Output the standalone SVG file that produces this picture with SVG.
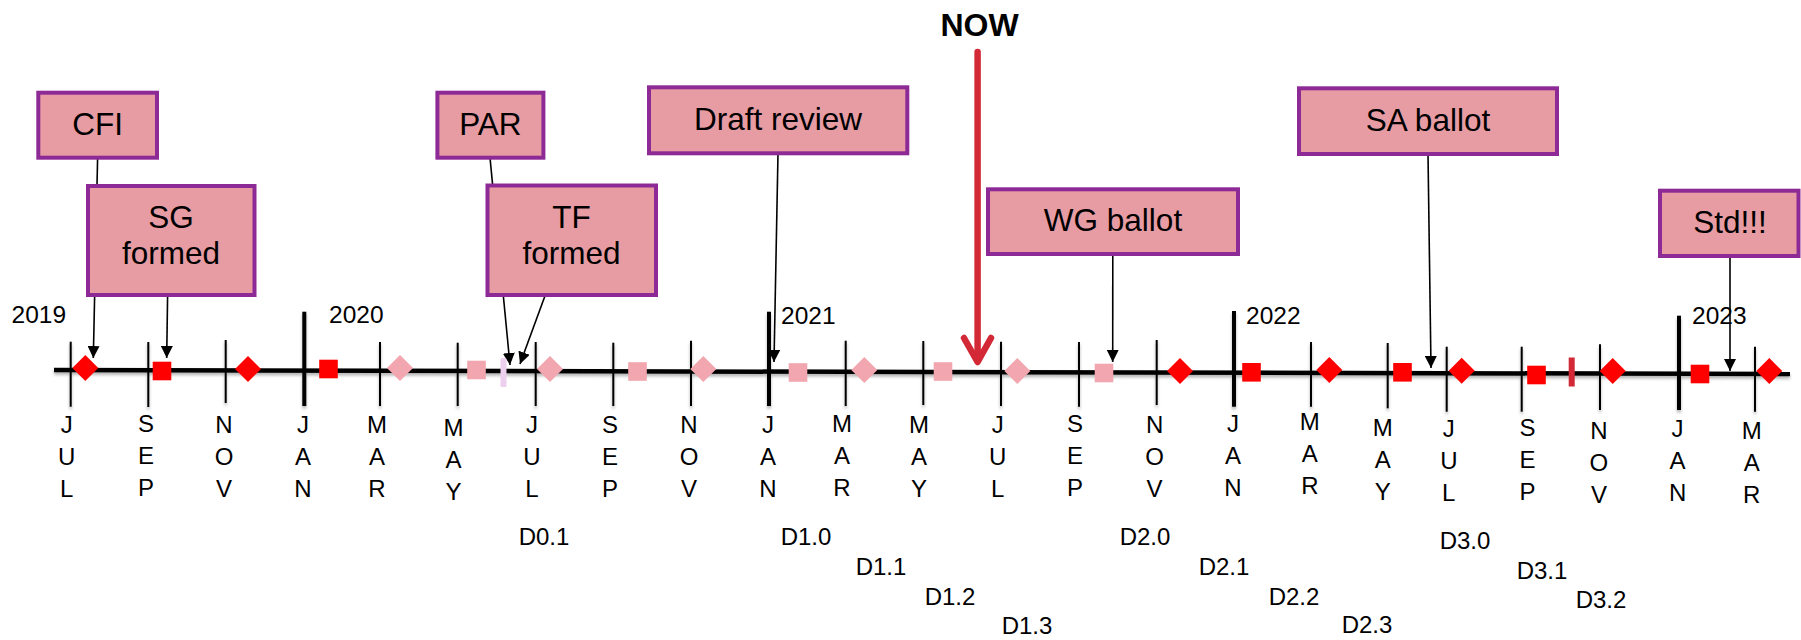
<svg xmlns="http://www.w3.org/2000/svg" width="1801" height="640" viewBox="0 0 1801 640">
<style>
  text { font-family: "Liberation Sans", Arial, sans-serif; fill: #000; }
  .box { fill: #E79CA3; stroke: #8E2A96; stroke-width: 4; }
  .bt { font-size: 31.5px; text-anchor: middle; }
  .yr { font-size: 24.5px; }
  .mo { font-size: 24px; text-anchor: middle; }
  .dl { font-size: 24px; text-anchor: middle; }
  .tk { stroke: #000; stroke-width: 2; }
  .tkb { stroke: #000; stroke-width: 4; }
  .con { stroke: #000; stroke-width: 1.6; fill: none; }
  .arr { marker-end: url(#ah); }
  .rd { fill: #FF0000; }
  .pk { fill: #F2A6AF; }
</style>
<defs>
  <marker id="ah" viewBox="0 0 12 12" refX="12" refY="6" markerWidth="12" markerHeight="12" markerUnits="userSpaceOnUse" orient="auto">
    <path d="M0,0 L12,6 L0,12 Z" fill="#000"/>
  </marker>
  <filter id="sh" x="-5%" y="-50%" width="110%" height="300%">
    <feDropShadow dx="0" dy="2.5" stdDeviation="1.5" flood-color="#000" flood-opacity="0.3"/>
  </filter>
  <path id="dia" d="M0,-13 L13,0 L0,13 L-13,0 Z"/>
  <rect id="sq" x="-9.3" y="-9.3" width="18.6" height="18.6"/>
</defs>

<g id="axis" filter="url(#sh)">
  <line x1="54" y1="370" x2="1790" y2="374" stroke="#000" stroke-width="4.5"/>
  <line class="tk" x1="70.7" y1="341.7" x2="70.7" y2="406.7"/>
  <line class="tk" x1="148.3" y1="342" x2="148.3" y2="407"/>
  <line class="tk" x1="225.7" y1="340" x2="225.7" y2="403"/>
  <line class="tkb" x1="304.3" y1="311.7" x2="304.3" y2="406"/>
  <line class="tk" x1="380" y1="342" x2="380" y2="406"/>
  <line class="tk" x1="457.7" y1="342.7" x2="457.7" y2="406"/>
  <line class="tk" x1="535.7" y1="342" x2="535.7" y2="406"/>
  <line class="tk" x1="613.3" y1="342.7" x2="613.3" y2="406"/>
  <line class="tk" x1="691" y1="340.7" x2="691" y2="406"/>
  <line class="tkb" x1="769" y1="311.7" x2="769" y2="406"/>
  <line class="tk" x1="845.7" y1="340.7" x2="845.7" y2="406"/>
  <line class="tk" x1="923.3" y1="341" x2="923.3" y2="405"/>
  <line class="tk" x1="1001" y1="341.7" x2="1001" y2="406"/>
  <line class="tk" x1="1079" y1="342" x2="1079" y2="406.7"/>
  <line class="tk" x1="1156.7" y1="340" x2="1156.7" y2="405"/>
  <line class="tkb" x1="1234" y1="311" x2="1234" y2="406.7"/>
  <line class="tk" x1="1311" y1="342" x2="1311" y2="406.7"/>
  <line class="tk" x1="1387.7" y1="343" x2="1387.7" y2="408.3"/>
  <line class="tk" x1="1446.7" y1="346.7" x2="1446.7" y2="411.7"/>
  <line class="tk" x1="1521.7" y1="346.7" x2="1521.7" y2="411.7" stroke-width="3"/>
  <line class="tk" x1="1600" y1="344.3" x2="1600" y2="410"/>
  <line class="tkb" x1="1679" y1="315.7" x2="1679" y2="410"/>
  <line class="tk" x1="1755" y1="346.7" x2="1755" y2="411.7"/>
</g>

<g id="years" class="yr">
  <text x="11.5" y="323">2019</text>
  <text x="329" y="323">2020</text>
  <text x="781" y="324">2021</text>
  <text x="1246" y="324">2022</text>
  <text x="1692" y="323.5">2023</text>
</g>

<g id="months" class="mo">
  <text y="433"><tspan x="66.7">J</tspan><tspan x="66.7" dy="32">U</tspan><tspan x="66.7" dy="32">L</tspan></text>
  <text y="432"><tspan x="146">S</tspan><tspan x="146" dy="32">E</tspan><tspan x="146" dy="32">P</tspan></text>
  <text y="433"><tspan x="224">N</tspan><tspan x="224" dy="32">O</tspan><tspan x="224" dy="32">V</tspan></text>
  <text y="433"><tspan x="303">J</tspan><tspan x="303" dy="32">A</tspan><tspan x="303" dy="32">N</tspan></text>
  <text y="433"><tspan x="377">M</tspan><tspan x="377" dy="32">A</tspan><tspan x="377" dy="32">R</tspan></text>
  <text y="436"><tspan x="453.5">M</tspan><tspan x="453.5" dy="32">A</tspan><tspan x="453.5" dy="32">Y</tspan></text>
  <text y="433"><tspan x="532">J</tspan><tspan x="532" dy="32">U</tspan><tspan x="532" dy="32">L</tspan></text>
  <text y="433"><tspan x="610">S</tspan><tspan x="610" dy="32">E</tspan><tspan x="610" dy="32">P</tspan></text>
  <text y="433"><tspan x="689">N</tspan><tspan x="689" dy="32">O</tspan><tspan x="689" dy="32">V</tspan></text>
  <text y="433"><tspan x="768">J</tspan><tspan x="768" dy="32">A</tspan><tspan x="768" dy="32">N</tspan></text>
  <text y="432"><tspan x="842">M</tspan><tspan x="842" dy="32">A</tspan><tspan x="842" dy="32">R</tspan></text>
  <text y="433"><tspan x="919">M</tspan><tspan x="919" dy="32">A</tspan><tspan x="919" dy="32">Y</tspan></text>
  <text y="433"><tspan x="997.7">J</tspan><tspan x="997.7" dy="32">U</tspan><tspan x="997.7" dy="32">L</tspan></text>
  <text y="432"><tspan x="1075">S</tspan><tspan x="1075" dy="32">E</tspan><tspan x="1075" dy="32">P</tspan></text>
  <text y="433"><tspan x="1154.6">N</tspan><tspan x="1154.6" dy="32">O</tspan><tspan x="1154.6" dy="32">V</tspan></text>
  <text y="432"><tspan x="1233">J</tspan><tspan x="1233" dy="32">A</tspan><tspan x="1233" dy="32">N</tspan></text>
  <text y="430"><tspan x="1309.8">M</tspan><tspan x="1309.8" dy="32">A</tspan><tspan x="1309.8" dy="32">R</tspan></text>
  <text y="436"><tspan x="1382.8">M</tspan><tspan x="1382.8" dy="32">A</tspan><tspan x="1382.8" dy="32">Y</tspan></text>
  <text y="437"><tspan x="1448.8">J</tspan><tspan x="1448.8" dy="32">U</tspan><tspan x="1448.8" dy="32">L</tspan></text>
  <text y="436"><tspan x="1527.6">S</tspan><tspan x="1527.6" dy="32">E</tspan><tspan x="1527.6" dy="32">P</tspan></text>
  <text y="439"><tspan x="1598.9">N</tspan><tspan x="1598.9" dy="32">O</tspan><tspan x="1598.9" dy="32">V</tspan></text>
  <text y="437"><tspan x="1677.6">J</tspan><tspan x="1677.6" dy="32">A</tspan><tspan x="1677.6" dy="32">N</tspan></text>
  <text y="439"><tspan x="1751.7">M</tspan><tspan x="1751.7" dy="32">A</tspan><tspan x="1751.7" dy="32">R</tspan></text>
</g>

<g id="drafts" class="dl">
  <text x="544" y="545">D0.1</text>
  <text x="806" y="545">D1.0</text>
  <text x="881" y="575">D1.1</text>
  <text x="950" y="605">D1.2</text>
  <text x="1027" y="634">D1.3</text>
  <text x="1145" y="545">D2.0</text>
  <text x="1224" y="575">D2.1</text>
  <text x="1294" y="605">D2.2</text>
  <text x="1367" y="633">D2.3</text>
  <text x="1465" y="549">D3.0</text>
  <text x="1542" y="579">D3.1</text>
  <text x="1601" y="608">D3.2</text>
</g>

<g id="connectors">
  <line class="con arr" x1="97.6" y1="157.7" x2="93.3" y2="358"/>
  <line class="con arr" x1="167.6" y1="295" x2="166.7" y2="358"/>
  <line class="con arr" x1="490" y1="157.7" x2="510" y2="365"/>
  <line class="con arr" x1="545.3" y1="295" x2="520" y2="364"/>
  <line class="con arr" x1="778" y1="153.3" x2="774" y2="362"/>
  <line class="con arr" x1="1112.8" y1="254" x2="1112.7" y2="362"/>
  <line class="con arr" x1="1428" y1="154" x2="1431" y2="368"/>
  <line class="con arr" x1="1730" y1="256" x2="1730" y2="371"/>
  <g id="now-arrow" stroke="#D32836" stroke-width="6.5" stroke-linecap="round" stroke-linejoin="round" fill="none">
    <line x1="977.6" y1="52" x2="977.6" y2="360"/>
    <polyline points="964,338 977.6,362 991,338"/>
  </g>
</g>

<g id="markers">
  <use href="#dia" class="rd" x="85.3" y="368"/>
  <use href="#sq" class="rd" x="162" y="371"/>
  <use href="#dia" class="rd" x="248" y="369"/>
  <use href="#sq" class="rd" x="328.5" y="369"/>
  <use href="#dia" class="pk" x="400" y="368"/>
  <use href="#sq" class="pk" x="476.5" y="370"/>
  <rect x="500.5" y="358" width="6" height="29" rx="1.5" fill="#EDCFEE"/>
  <use href="#dia" class="pk" x="550" y="369"/>
  <use href="#sq" class="pk" x="637.5" y="371.5"/>
  <use href="#dia" class="pk" x="703.3" y="369"/>
  <use href="#sq" class="pk" x="798" y="372.5"/>
  <use href="#dia" class="pk" x="864.3" y="370"/>
  <use href="#sq" class="pk" x="943" y="371.5"/>
  <use href="#dia" class="pk" x="1017.3" y="371"/>
  <use href="#sq" class="pk" x="1104" y="373"/>
  <use href="#dia" class="rd" x="1180" y="371"/>
  <use href="#sq" class="rd" x="1251.5" y="372.3"/>
  <use href="#dia" class="rd" x="1329.3" y="370"/>
  <use href="#sq" class="rd" x="1402.5" y="372.3"/>
  <use href="#dia" class="rd" x="1461.7" y="370.7"/>
  <use href="#sq" class="rd" x="1536.5" y="375"/>
  <rect x="1568.7" y="357.5" width="6" height="29" fill="#D32836"/>
  <use href="#dia" class="rd" x="1612.7" y="371"/>
  <use href="#sq" class="rd" x="1700" y="374"/>
  <use href="#dia" class="rd" x="1769.3" y="371"/>
</g>

<g id="now">
  <text x="979.6" y="36" font-size="32" font-weight="bold" text-anchor="middle">NOW</text>
</g>

<g id="cfi">
  <rect class="box" x="38.3" y="92.7" width="118.7" height="65"/>
  <text class="bt" x="97.6" y="134.5">CFI</text>
</g>
<g id="sg-formed">
  <rect class="box" x="88" y="186" width="166.5" height="109"/>
  <text class="bt" x="171" y="227.5">SG</text>
  <text class="bt" x="171" y="264">formed</text>
</g>
<g id="par">
  <rect class="box" x="437.4" y="92.7" width="106" height="65"/>
  <text class="bt" x="490.4" y="134.5">PAR</text>
</g>
<g id="tf-formed">
  <rect class="box" x="487.5" y="185.5" width="168.5" height="109.5"/>
  <text class="bt" x="571.5" y="227.5">TF</text>
  <text class="bt" x="571.5" y="264">formed</text>
</g>
<g id="draft-review">
  <rect class="box" x="649" y="87.3" width="258.3" height="66"/>
  <text class="bt" x="778" y="129.5">Draft review</text>
</g>
<g id="wg-ballot">
  <rect class="box" x="988" y="189.3" width="250" height="64.7"/>
  <text class="bt" x="1113" y="230.5">WG ballot</text>
</g>
<g id="sa-ballot">
  <rect class="box" x="1299" y="88.3" width="258" height="65.7"/>
  <text class="bt" x="1428" y="130.5">SA ballot</text>
</g>
<g id="std">
  <rect class="box" x="1660" y="190.7" width="138.5" height="65.3"/>
  <text class="bt" x="1730" y="232.5">Std!!!</text>
</g>
</svg>
